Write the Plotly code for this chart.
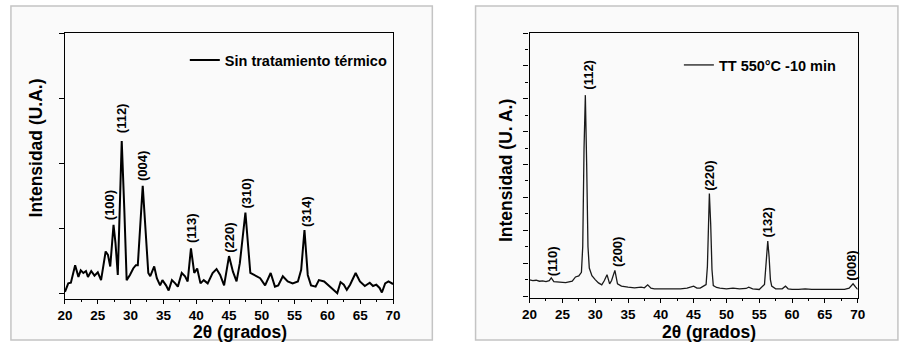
import plotly.graph_objects as go

W, H = 902, 342

# ---------------- data: left panel (sin tratamiento) ----------------
two_theta_a = [20.0, 20.5, 20.9, 21.55, 22.05, 22.4, 22.8, 23.2, 23.5, 24.0, 24.5, 25.0, 25.5,
               26.2, 26.55, 26.9, 27.4, 27.7, 28.05, 28.65, 29.05, 29.4, 29.9, 30.4, 30.8, 31.1,
               31.85, 32.3, 32.7, 33.0, 33.6, 34.0, 34.5, 34.85, 35.4, 35.8, 36.3, 36.8, 37.2,
               37.8, 38.3, 38.7, 39.2, 39.7, 40.15, 40.65, 41.15, 41.75, 42.5, 43.1, 43.65, 44.25,
               45.0, 45.6, 46.15, 46.65, 47.5, 48.25, 49.0, 49.75, 50.5, 51.35, 52.0, 52.5, 53.2,
               53.95, 54.7, 55.5, 56.0, 56.5, 57.0, 57.5, 58.2, 58.7, 59.5, 60.2, 61.0, 61.5, 62.0,
               62.5, 62.95, 63.45, 64.3, 64.95, 65.7, 66.45, 66.95, 67.45, 67.95, 68.3, 68.8,
               69.3, 70.0]
intens_a = [0.02, 0.15, 0.16, 0.43, 0.25, 0.35, 0.31, 0.34, 0.25, 0.34, 0.27, 0.32, 0.20,
            0.64, 0.59, 0.41, 1.05, 0.77, 0.28, 2.34, 1.27, 0.20, 0.28, 0.38, 0.43, 0.43,
            1.65, 0.92, 0.31, 0.26, 0.41, 0.23, 0.12, 0.20, 0.12, 0.04, 0.20, 0.15, 0.10,
            0.31, 0.26, 0.18, 0.69, 0.31, 0.38, 0.15, 0.20, 0.15, 0.31, 0.37, 0.28, 0.12,
            0.57, 0.33, 0.18, 0.46, 1.24, 0.31, 0.27, 0.23, 0.12, 0.31, 0.10, 0.12, 0.26,
            0.18, 0.15, 0.18, 0.36, 0.97, 0.28, 0.12, 0.10, 0.20, 0.18, 0.12, 0.05, 0.0, 0.17,
            0.13, 0.05, 0.13, 0.31, 0.18, 0.11, 0.16, 0.11, 0.13, 0.08, 0.01, 0.15,
            0.18, 0.14]

# ---------------- data: right panel (TT 550 °C - 10 min) ----------------
two_theta_b = [20.0, 20.5, 21.0, 21.5, 22.0, 22.5, 23.0, 23.3, 23.7, 24.5, 25.0, 25.5, 26.0,
               26.5, 27.0, 27.5, 27.9, 28.1, 28.3, 28.5, 28.7, 28.9, 29.1, 29.5, 30.0, 30.5,
               31.0, 31.4, 31.8, 32.2, 32.5, 33.0, 33.4, 34.0, 35.0, 36.0, 37.0, 37.5, 38.0,
               38.5, 39.0, 40.0, 41.0, 42.0, 43.0, 44.0, 45.0, 45.5, 46.0, 46.5, 46.9, 47.1,
               47.3, 47.4, 47.6, 47.8, 48.0, 48.5, 49.0, 50.0, 51.0, 52.0, 53.0, 53.4, 54.0,
               55.0, 55.8, 56.0, 56.2, 56.3, 56.5, 56.7, 56.9, 57.5, 58.5, 59.0, 59.4, 60.0,
               61.0, 62.0, 63.0, 64.0, 64.5, 65.0, 66.0, 67.0, 68.0, 68.7, 69.3, 69.7, 70.0]
intens_b = [0.49, 0.47, 0.48, 0.45, 0.46, 0.44, 0.47, 0.55, 0.44, 0.42, 0.43, 0.41, 0.43,
            0.45, 0.58, 0.61, 0.72, 1.5, 4.5, 6.11, 4.0, 1.5, 0.85, 0.62, 0.50, 0.40,
            0.34, 0.47, 0.65, 0.37, 0.47, 0.78, 0.37, 0.30, 0.27, 0.25, 0.27, 0.25, 0.34,
            0.24, 0.22, 0.22, 0.21, 0.23, 0.22, 0.24, 0.30, 0.24, 0.24, 0.30, 0.35, 0.9,
            2.6, 3.12, 2.2, 0.8, 0.32, 0.26, 0.24, 0.22, 0.24, 0.22, 0.23, 0.27, 0.22,
            0.20, 0.35, 0.9, 1.5, 1.67, 1.2, 0.5, 0.30, 0.22, 0.22, 0.30, 0.22, 0.20,
            0.20, 0.22, 0.20, 0.20, 0.18, 0.20, 0.19, 0.20, 0.20, 0.24, 0.37, 0.27, 0.20]

# peak labels (Miller indices)
labels_a = ["(100)", "(112)", "(004)", "(113)", "(220)", "(310)", "(314)"]
label_x_a = [26.8, 28.65, 31.9, 39.3, 45.05, 47.7, 56.7]
label_y_a = [1.10, 2.44, 1.71, 0.75, 0.61, 1.28, 1.00]

labels_b = ["(110)", "(112)", "(200)", "(220)", "(132)", "(008)"]
label_x_b = [23.6, 28.98, 33.3, 47.5, 56.3, 69.0]
label_y_b = [0.58, 6.23, 0.85, 3.17, 1.74, 0.44]

name_a = "Sin tratamiento térmico"
name_b = "TT 550°C -10 min"
x_title = "2θ (grados)"
y_title_a = "Intensidad (U.A.)"
y_title_b = "Intensidad (U. A.)"

FONT = "Liberation Sans, Arial, sans-serif"


def px(x):
    return x / W


def py(y):
    return 1 - y / H


fig = go.Figure()
fig.add_trace(go.Scatter(x=two_theta_a, y=intens_a, mode="lines", name=name_a,
                         line=dict(color="black", width=2), xaxis="x", yaxis="y",
                         legend="legend"))
fig.add_trace(go.Scatter(x=two_theta_b, y=intens_b, mode="lines", name=name_b,
                         line=dict(color="#1a1a1a", width=1.3), xaxis="x2", yaxis="y2",
                         legend="legend2"))

tickfont = dict(family=FONT, size=13.5, color="black", weight="bold")
common_x = dict(range=[20, 70], tickmode="linear", tick0=20, dtick=5, ticks="outside",
                ticklen=4, tickwidth=1, tickcolor="black", showline=True, linecolor="black",
                linewidth=1.3, mirror=True, showgrid=False, zeroline=False, tickfont=tickfont,
                minor=dict(ticks="outside", ticklen=2, dtick=2.5, tickcolor="black"))

legend_font = dict(family=FONT, size=14.5, color="black", weight="bold")

fig.update_layout(
    width=W, height=H, margin=dict(l=0, r=0, t=0, b=0),
    paper_bgcolor="white", plot_bgcolor="rgba(0,0,0,0)",
    font=dict(family=FONT, color="black"),
    xaxis=dict(domain=[px(58), px(392)], anchor="y", **common_x),
    yaxis=dict(domain=[py(299), py(33)], anchor="x", range=[-0.09, 4], tickmode="linear",
               tick0=0, dtick=1, ticks="outside", ticklen=5, tickcolor="black",
               showticklabels=False, showline=True, linecolor="black", linewidth=1.3,
               mirror=True, showgrid=False, zeroline=False),
    xaxis2=dict(domain=[px(531), px(865)], anchor="y2", **common_x),
    yaxis2=dict(domain=[py(298), py(33)], anchor="x2", range=[-0.06, 8], tickmode="linear",
                tick0=0, dtick=1, ticks="outside", ticklen=5, tickcolor="black",
                showticklabels=False, showline=True, linecolor="black", linewidth=1.3,
                mirror=True, showgrid=False, zeroline=False,
                minor=dict(ticks="outside", ticklen=3, dtick=0.5, tickcolor="black")),
    legend=dict(x=px(180), y=py(60), xanchor="left", yanchor="middle",
                bgcolor="rgba(0,0,0,0)", borderwidth=0, font=legend_font),
    legend2=dict(x=px(683), y=py(65), xanchor="left", yanchor="middle",
                 bgcolor="rgba(0,0,0,0)", borderwidth=0, font=legend_font),
    showlegend=True,
)

# panel frames
fig.add_shape(type="rect", xref="paper", yref="paper", x0=px(3), x1=px(432),
              y0=py(340), y1=py(6), fillcolor="#fafafa",
              line=dict(color="#c4c4c4", width=1.5), layer="below")
fig.add_shape(type="rect", xref="paper", yref="paper", x0=px(476), x1=px(906),
              y0=py(340), y1=py(6), fillcolor="#fafafa",
              line=dict(color="#c4c4c4", width=1.5), layer="below")

ann_font = dict(family=FONT, size=13, color="black", weight="bold")
for t, xv, yv in zip(labels_a, label_x_a, label_y_a):
    fig.add_annotation(x=xv, y=yv, xref="x", yref="y", text=t, textangle=-90,
                       showarrow=False, xanchor="center", yanchor="bottom", font=ann_font,
                       borderpad=0)
for t, xv, yv in zip(labels_b, label_x_b, label_y_b):
    fig.add_annotation(x=xv, y=yv, xref="x2", yref="y2", text=t, textangle=-90,
                       showarrow=False, xanchor="center", yanchor="bottom", font=ann_font,
                       borderpad=0)

title_font = dict(family=FONT, size=17.5, color="black", weight="bold")
fig.add_annotation(x=px(236), y=py(332), xref="paper", yref="paper", text=x_title,
                   showarrow=False, xanchor="center", yanchor="middle", font=title_font,
                   borderpad=0)
fig.add_annotation(x=px(714), y=py(332), xref="paper", yref="paper", text=x_title,
                   showarrow=False, xanchor="center", yanchor="middle", font=title_font,
                   borderpad=0)
fig.add_annotation(x=px(29), y=py(148), xref="paper", yref="paper", text=y_title_a,
                   textangle=-90, showarrow=False, xanchor="center", yanchor="middle",
                   font=title_font)
fig.add_annotation(x=px(507), y=py(171), xref="paper", yref="paper", text=y_title_b,
                   textangle=-90, showarrow=False, xanchor="center", yanchor="middle",
                   font=title_font)

fig.write_html("out.html")
